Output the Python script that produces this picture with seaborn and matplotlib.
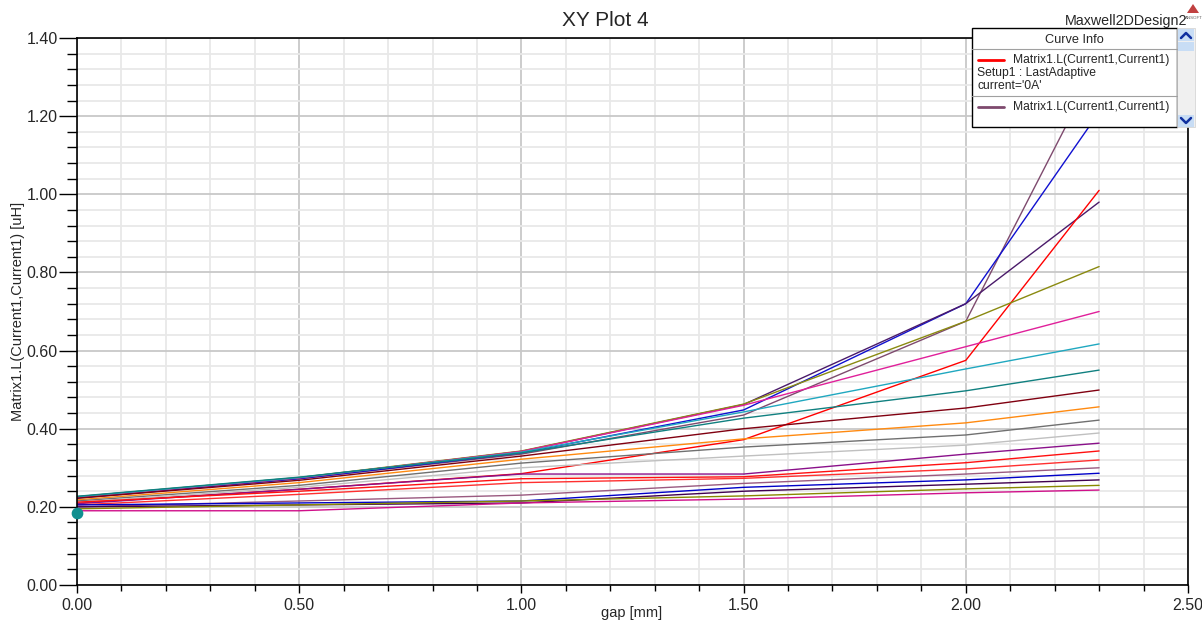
import matplotlib
matplotlib.use("Agg")
import matplotlib.pyplot as plt
import matplotlib.patches as mpatches
from matplotlib.ticker import MultipleLocator, FormatStrFormatter
import seaborn as sns
import pandas as pd

gap = [0.0, 0.5, 1.0, 1.5, 2.0, 2.3]

# one list per curve (inductance in uH)
c_mauve = [0.225, 0.272, 0.335, 0.435, 0.675, 1.34]
c_blue = [0.222, 0.272, 0.338, 0.448, 0.720, 1.21]
c_indigo = [0.224, 0.274, 0.342, 0.462, 0.720, 0.98]
c_red_big = [0.210, 0.245, 0.285, 0.372, 0.575, 1.01]
c_olive = [0.226, 0.275, 0.343, 0.463, 0.675, 0.815]
c_pink = [0.225, 0.274, 0.342, 0.460, 0.610, 0.700]
c_cyan = [0.226, 0.275, 0.340, 0.443, 0.553, 0.617]
c_teal = [0.227, 0.276, 0.338, 0.427, 0.497, 0.550]
c_darkred = [0.222, 0.268, 0.330, 0.400, 0.453, 0.499]
c_orange = [0.218, 0.262, 0.322, 0.374, 0.415, 0.456]
c_gray = [0.215, 0.255, 0.312, 0.353, 0.384, 0.422]
c_lightgray = [0.212, 0.250, 0.300, 0.330, 0.358, 0.389]
c_purple = [0.208, 0.245, 0.284, 0.284, 0.335, 0.363]
c_red2 = [0.212, 0.240, 0.272, 0.277, 0.313, 0.343]
c_red3 = [0.205, 0.232, 0.262, 0.273, 0.297, 0.320]
c_mauve2 = [0.200, 0.215, 0.230, 0.260, 0.284, 0.300]
c_blue2 = [0.205, 0.210, 0.215, 0.250, 0.269, 0.286]
c_darkpurple = [0.200, 0.205, 0.210, 0.240, 0.258, 0.269]
c_olive2 = [0.195, 0.205, 0.215, 0.228, 0.246, 0.255]
c_magenta = [0.190, 0.190, 0.210, 0.220, 0.236, 0.243]

curves = {
    "mauve": (c_mauve, "#7E4A6E"),
    "blue": (c_blue, "#1010D0"),
    "indigo": (c_indigo, "#4A1A6A"),
    "red_big": (c_red_big, "#FF0000"),
    "olive": (c_olive, "#8A8A10"),
    "pink": (c_pink, "#E0209A"),
    "cyan": (c_cyan, "#20A8C0"),
    "teal": (c_teal, "#108080"),
    "darkred": (c_darkred, "#800010"),
    "orange": (c_orange, "#FF8A10"),
    "gray": (c_gray, "#707070"),
    "lightgray": (c_lightgray, "#C0C0C0"),
    "purple": (c_purple, "#8A108A"),
    "red2": (c_red2, "#FF1010"),
    "red3": (c_red3, "#FF3030"),
    "mauve2": (c_mauve2, "#9A5A80"),
    "blue2": (c_blue2, "#0000C8"),
    "darkpurple": (c_darkpurple, "#400050"),
    "olive2": (c_olive2, "#888800"),
    "magenta": (c_magenta, "#D0108A"),
}

rows = []
for name, (vals, col) in curves.items():
    for g, v in zip(gap, vals):
        rows.append({"curve": name, "gap": g, "L": v})
df = pd.DataFrame(rows)
palette = {name: col for name, (vals, col) in curves.items()}

sns.set_style("white")
plt.rcParams["font.family"] = ["Liberation Sans", "DejaVu Sans"]

fig = plt.figure(figsize=(12.02, 6.22), dpi=100)
ax = fig.add_axes([77 / 1202, 1 - 585 / 622, (1188 - 77) / 1202, (585 - 38) / 622])

sns.lineplot(data=df, x="gap", y="L", hue="curve", palette=palette,
             estimator=None, legend=False, linewidth=1.0, ax=ax)
ax.scatter([0.0], [0.185], s=55, color="#109090", zorder=5, clip_on=False)

ax.set_xlim(0, 2.5)
ax.set_ylim(0, 1.4)
ax.xaxis.set_major_locator(MultipleLocator(0.5))
ax.xaxis.set_minor_locator(MultipleLocator(0.1))
ax.yaxis.set_major_locator(MultipleLocator(0.2))
ax.yaxis.set_minor_locator(MultipleLocator(0.04))
ax.xaxis.set_major_formatter(FormatStrFormatter("%.2f"))
ax.yaxis.set_major_formatter(FormatStrFormatter("%.2f"))
ax.grid(True, which="major", color="#C8C8C8", linewidth=1.3)
ax.grid(True, which="minor", color="#E8E8E8", linewidth=1.3)
ax.set_axisbelow(True)
ax.tick_params(axis="y", which="major", direction="out", length=13, width=1, labelsize=11.5, color="black", left=True, pad=1)
ax.tick_params(axis="y", which="minor", direction="out", length=7, width=1, color="black", left=True)
ax.tick_params(axis="x", which="major", direction="out", length=6, width=1, labelsize=11.5, color="black", bottom=True, pad=3)
ax.tick_params(axis="x", which="minor", direction="out", length=4, width=1, color="black", bottom=True)
for s in ax.spines.values():
    s.set_color("black")
    s.set_linewidth(1.2)
ax.set_xlabel("gap [mm]", fontsize=10.5, va="center")
ax.xaxis.set_label_coords((632 - 77) / 1111, -(613 - 585) / 547)
ax.set_ylabel("Matrix1.L(Current1,Current1) [uH]", fontsize=10.5, va="center")
ax.yaxis.set_label_coords(-(77 - 18) / 1111, 0.5)

fig.text(605 / 1202, 1 - 21 / 622, "XY Plot 4", ha="center", va="center", fontsize=15)
fig.text(1126 / 1202, 1 - 21 / 622, "Maxwell2DDesign2", ha="center", va="center", fontsize=10.3)

# overlay in pixel coordinates for the curve info box
ov = fig.add_axes([0, 0, 1, 1], facecolor="none")
ov.set_xlim(0, 1202)
ov.set_ylim(622, 0)
ov.axis("off")
ov.add_patch(mpatches.Rectangle((972, 28), 205, 99, facecolor="white", edgecolor="black", linewidth=1.0))
ov.plot([972, 1177], [49, 49], color="#A0A0A0", linewidth=0.8)
ov.plot([972, 1177], [96, 96], color="#A0A0A0", linewidth=0.8)
ov.text(1074, 40, "Curve Info", ha="center", va="center", fontsize=9.2)
ov.plot([978, 1004], [60, 60], color="#FF0000", linewidth=2)
ov.text(1013, 60, "Matrix1.L(Current1,Current1)", ha="left", va="center", fontsize=8.7)
ov.text(977, 73, "Setup1 : LastAdaptive", ha="left", va="center", fontsize=8.7)
ov.text(977, 86, "current='0A'", ha="left", va="center", fontsize=8.7)
ov.plot([978, 1004], [107, 107], color="#7E4A6E", linewidth=2)
ov.text(1013, 107, "Matrix1.L(Current1,Current1)", ha="left", va="center", fontsize=8.7)
# scroll bar
ov.add_patch(mpatches.Rectangle((1177, 28), 18, 99, facecolor="#F0F0F0", edgecolor="#D0D0D0", linewidth=0.5))
ov.add_patch(mpatches.Rectangle((1178, 29), 16, 12, facecolor="#C8DDF5", edgecolor="none"))
ov.add_patch(mpatches.Rectangle((1178, 42), 16, 9, facecolor="#C8DDF5", edgecolor="none"))
ov.add_patch(mpatches.Rectangle((1178, 115), 16, 12, facecolor="#C8DDF5", edgecolor="none"))
ov.plot([1181, 1186, 1191], [38, 33, 38], color="#1030A0", linewidth=1.8)
ov.plot([1181, 1186, 1191], [118, 123, 118], color="#1030A0", linewidth=1.8)
# small logo
ov.add_patch(mpatches.Polygon([[1187, 13], [1193, 4], [1199, 13]], closed=True, facecolor="#C04040", edgecolor="none"))
ov.text(1194, 18, "ANSOFT", ha="center", va="center", fontsize=3.2, color="#606060")

fig.savefig("out.png", dpi=100)
